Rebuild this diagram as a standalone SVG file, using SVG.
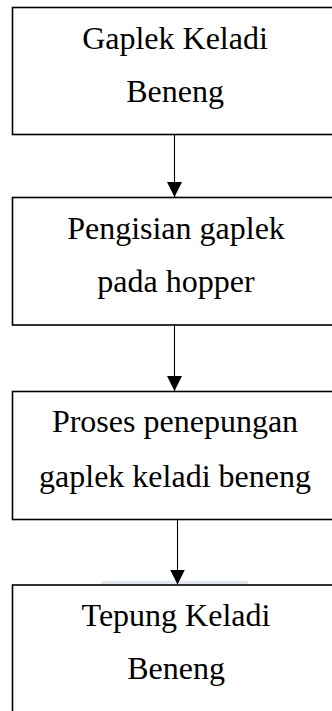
<svg xmlns="http://www.w3.org/2000/svg" width="332" height="711" viewBox="0 0 332 711">
<style>
.box{fill:#fff;stroke:#000;stroke-width:1.6}
.t{font-family:"Liberation Serif","Times New Roman",serif;font-size:32px;fill:#000;text-anchor:middle}
.ln{stroke:#000;stroke-width:1.1;fill:none}
</style>
<defs>
<marker id="ah" markerWidth="15" markerHeight="15" refX="15" refY="7.5" orient="auto" markerUnits="userSpaceOnUse">
<path d="M0,0 L15,7.5 L0,15 Z" fill="#000"/>
</marker>
</defs>
<rect width="332" height="711" fill="#fff"/>
<rect x="101" y="581" width="147" height="3" fill="#e2e7ee"/>
<g id="n1">
<rect class="box" x="12.5" y="7.5" width="330" height="127"/>
<text class="t" x="175" y="48.5">Gaplek Keladi</text>
<text class="t" x="175" y="101.5">Beneng</text>
</g>
<g id="n2">
<rect class="box" x="12.5" y="197.5" width="330" height="127.5"/>
<text class="t" x="176" y="238.5">Pengisian gaplek</text>
<text class="t" x="176" y="291.5">pada hopper</text>
</g>
<g id="n3">
<rect class="box" x="12.5" y="391.5" width="330" height="128"/>
<text class="t" x="175" y="431.5">Proses penepungan</text>
<text class="t" x="175" y="486.5">gaplek keladi beneng</text>
</g>
<g id="n4">
<rect class="box" x="12.5" y="585" width="330" height="140"/>
<text class="t" x="176" y="626">Tepung Keladi</text>
<text class="t" x="176" y="678.5">Beneng</text>
</g>
<g id="connectors">
<line class="ln" x1="174.5" y1="134.5" x2="174.5" y2="197" marker-end="url(#ah)"/>
<line class="ln" x1="174.5" y1="325" x2="174.5" y2="391" marker-end="url(#ah)"/>
<line class="ln" x1="177.5" y1="519.5" x2="177.5" y2="584.5" marker-end="url(#ah)"/>
</g>
</svg>
